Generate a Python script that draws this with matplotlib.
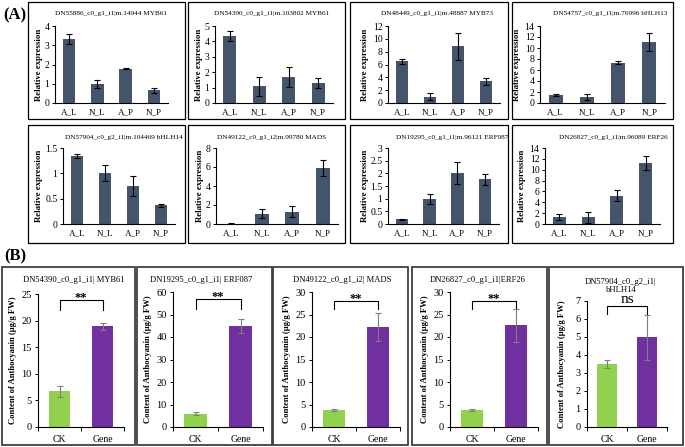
import matplotlib
matplotlib.use('Agg')
import matplotlib.pyplot as plt
from matplotlib.patches import Rectangle
import numpy as np

plt.rcParams['font.family'] = ['Liberation Serif', 'DejaVu Serif']

# ---------------- data ----------------
groups_a = ['A_L', 'N_L', 'A_P', 'N_P']

title_a1 = 'DN55886_c0_g1_i1|m.14944 MYB61'
vals_a1 = [3.32, 1.00, 1.78, 0.65]
err_a1 = [0.28, 0.22, 0.03, 0.15]

title_a2 = 'DN54390_c0_g1_i1|m.103802 MYB61'
vals_a2 = [4.35, 1.10, 1.67, 1.30]
err_a2 = [0.35, 0.62, 0.65, 0.35]

title_a3 = 'DN48449_c0_g1_i1|m.48887 MYB73'
vals_a3 = [6.50, 1.00, 8.85, 3.40]
err_a3 = [0.40, 0.50, 2.10, 0.55]

title_a4 = 'DN54757_c0_g1_i1|m.76996 bHLH13'
vals_a4 = [1.45, 1.10, 7.35, 11.10]
err_a4 = [0.15, 0.50, 0.30, 1.70]

title_a5 = 'DN57904_c0_g2_i1|m.104469 bHLH14'
vals_a5 = [1.35, 1.00, 0.75, 0.37]
err_a5 = [0.04, 0.16, 0.20, 0.03]

title_a6 = 'DN49122_c0_g1_i2|m.99780 MADS'
vals_a6 = [0.05, 1.10, 1.30, 5.90]
err_a6 = [0.03, 0.50, 0.60, 0.85]

title_a7 = 'DN19295_c0_g1_i1|m.96121 ERF087'
vals_a7 = [0.18, 1.00, 2.00, 1.77]
err_a7 = [0.03, 0.20, 0.43, 0.22]

title_a8 = 'DN26827_c0_g1_i1|m.96089 ERF26'
vals_a8 = [1.30, 1.20, 5.20, 11.30]
err_a8 = [0.50, 0.95, 1.00, 1.30]

ymax_a = [4, 5, 12, 14, 1.5, 8, 3, 14]
ystep_a = [1, 1, 2, 2, 0.5, 2, 0.5, 2]

groups_b = ['CK', 'Gene']

title_b1 = 'DN54390_c0_g1_i1| MYB61'
vals_b1 = [6.7, 18.9]
err_b1 = [1.0, 0.7]

title_b2 = 'DN19295_c0_g1_i1| ERF087'
vals_b2 = [6.0, 45.0]
err_b2 = [0.6, 3.2]

title_b3 = 'DN49122_c0_g1_i2| MADS'
vals_b3 = [3.8, 22.2]
err_b3 = [0.2, 3.1]

title_b4 = 'DN26827_c0_g1_i1|ERF26'
vals_b4 = [3.8, 22.6]
err_b4 = [0.15, 3.6]

title_b5 = 'DN57904_c0_g2_i1|\nbHLH14'
vals_b5 = [3.5, 5.0]
err_b5 = [0.2, 1.25]

ymax_b = [25, 60, 30, 30, 7]
ystep_b = [5, 10, 5, 5, 1]
sig_b = ['**', '**', '**', '**', 'ns']
bracket_top_b = [23.9, 56.9, 28.0, 28.0, 6.72]
bracket_leg_b = [22.0, 52.4, 26.2, 26.2, 6.30]

# ---------------- layout ----------------
W, H = 685, 447
fig = plt.figure(figsize=(W / 100, H / 100), dpi=100)


def fa(x0, y0, x1, y1):
    return [x0 / W, 1 - y1 / H, (x1 - x0) / W, (y1 - y0) / H]


def box(x0, y0, x1, y1, color, lw):
    fig.add_artist(Rectangle((x0 / W, 1 - y1 / H), (x1 - x0) / W, (y1 - y0) / H,
                             transform=fig.transFigure, fill=False, ec=color, lw=lw))


def ftext(x, y, s, **kw):
    fig.text(x / W, 1 - y / H, s, **kw)


A_COLOR = '#44546A'
CK_COLOR = '#92D050'
GENE_COLOR = '#7030A0'

boxes_a = [(28, 2, 185, 119), (188, 2, 345, 119), (350, 2, 508, 119), (512, 2, 673, 119),
           (28, 125, 185, 243), (188, 125, 345, 243), (350, 125, 508, 243), (512, 125, 673, 243)]
axes_a = [(55, 26, 168, 103), (215, 26, 333, 103), (388, 26, 500, 103), (540, 26, 665, 103),
          (63, 148, 175, 224), (216, 148, 338, 224), (388, 148, 499, 224), (545, 148, 660, 224)]
title_x_a = [111, 272, 437, 610, 124, 272, 452, 613]
title_y_a = [14, 14, 14, 14, 137, 137, 137, 137]
ylab_off_a = [12, 12, 19, 19, 20, 12, 19, 19]

titles_a = [title_a1, title_a2, title_a3, title_a4, title_a5, title_a6, title_a7, title_a8]
vals_a = [vals_a1, vals_a2, vals_a3, vals_a4, vals_a5, vals_a6, vals_a7, vals_a8]
errs_a = [err_a1, err_a2, err_a3, err_a4, err_a5, err_a6, err_a7, err_a8]

ftext(3, 15, '(A)', fontsize=12, fontweight='bold', va='center', ha='left')
ftext(4, 256, '(B)', fontsize=12, fontweight='bold', va='center', ha='left')

for i in range(8):
    box(*boxes_a[i], 'black', 0.9)
    x0, y0, x1, y1 = axes_a[i]
    ax = fig.add_axes(fa(x0, y0, x1, y1))
    x = np.arange(len(groups_a))
    ax.bar(x, vals_a[i], width=0.45, color=A_COLOR, zorder=2)
    ax.errorbar(x, vals_a[i], yerr=errs_a[i], fmt='none', ecolor='black',
                elinewidth=0.8, capsize=2, capthick=0.8, zorder=3)
    ax.set_xlim(-0.5, 3.5)
    ax.set_ylim(0, ymax_a[i])
    ax.set_yticks(np.arange(0, ymax_a[i] + 1e-9, ystep_a[i]))
    ax.yaxis.set_major_formatter(matplotlib.ticker.FormatStrFormatter('%g'))
    ax.set_xticks(x)
    ax.set_xticklabels(groups_a)
    ax.tick_params(axis='x', length=0, labelsize=6.5, pad=4)
    ax.tick_params(axis='y', length=2, width=0.7, labelsize=7, pad=2)
    for s in ['top', 'right']:
        ax.spines[s].set_visible(False)
    for s in ['left', 'bottom']:
        ax.spines[s].set_linewidth(0.8)
    ax.set_ylabel('Relative expression', fontsize=6.3, fontweight='bold')
    ax.yaxis.set_label_coords(-ylab_off_a[i] / (x1 - x0), 0.5)
    ftext(title_x_a[i], title_y_a[i], titles_a[i], fontsize=5.2, ha='center', va='center')

boxes_b = [(2, 267, 135, 445), (137, 267, 272, 445), (273, 267, 408, 445),
           (412, 267, 547, 445), (549, 267, 683, 445)]
axes_b = [(38, 294, 124, 427), (173, 292, 263, 427), (312, 292, 400, 427),
          (450, 292, 538, 427), (587, 301, 667, 427)]
title_x_b = [74, 201, 342, 478, 621]
title_y_b = [280, 280, 280, 280, 286]

titles_b = [title_b1, title_b2, title_b3, title_b4, title_b5]
vals_b = [vals_b1, vals_b2, vals_b3, vals_b4, vals_b5]
errs_b = [err_b1, err_b2, err_b3, err_b4, err_b5]

for i in range(5):
    box(*boxes_b[i], '#404040', 1.3)
    x0, y0, x1, y1 = axes_b[i]
    ax = fig.add_axes(fa(x0, y0, x1, y1))
    x = np.arange(len(groups_b))
    ax.bar(x, vals_b[i], width=0.5, color=[CK_COLOR, GENE_COLOR], zorder=2)
    ax.errorbar(x, vals_b[i], yerr=errs_b[i], fmt='none', ecolor='#7F7F7F',
                elinewidth=0.8, capsize=2, capthick=0.8, zorder=3)
    ax.set_xlim(-0.5, 1.5)
    ax.set_ylim(0, ymax_b[i])
    ax.set_yticks(np.arange(0, ymax_b[i] + 1e-9, ystep_b[i]))
    ax.set_xticks(x)
    ax.set_xticklabels(groups_b)
    ax.set_xticks([-0.5, 0.5, 1.5], minor=True)
    ax.tick_params(axis='x', which='major', length=0, labelsize=7, pad=6)
    ax.tick_params(axis='x', which='minor', length=3, width=0.7, direction='out')
    ax.tick_params(axis='y', length=2.5, width=0.7, labelsize=7.5, pad=2)
    for s in ['top', 'right']:
        ax.spines[s].set_visible(False)
    for s in ['left', 'bottom']:
        ax.spines[s].set_linewidth(0.8)
    ax.set_ylabel('Content of Anthocyanin (μg/g FW)', fontsize=6.2, fontweight='bold')
    ax.yaxis.set_label_coords(-21 / (x1 - x0), 0.5)
    yt, yl = bracket_top_b[i], bracket_leg_b[i]
    ax.plot([0, 0, 1, 1], [yl, yt, yt, yl], color='black', lw=0.8, clip_on=False)
    if sig_b[i] == 'ns':
        ax.text(0.5, yt, sig_b[i], ha='center', va='bottom', fontsize=11)
    else:
        ax.text(0.5, yt - ymax_b[i] * 0.03, sig_b[i], ha='center', va='bottom',
                fontsize=9, fontweight='bold')
    ftext(title_x_b[i], title_y_b[i], titles_b[i], fontsize=6.1, ha='center', va='center',
          linespacing=1.1)

fig.savefig('out.png', dpi=100)
